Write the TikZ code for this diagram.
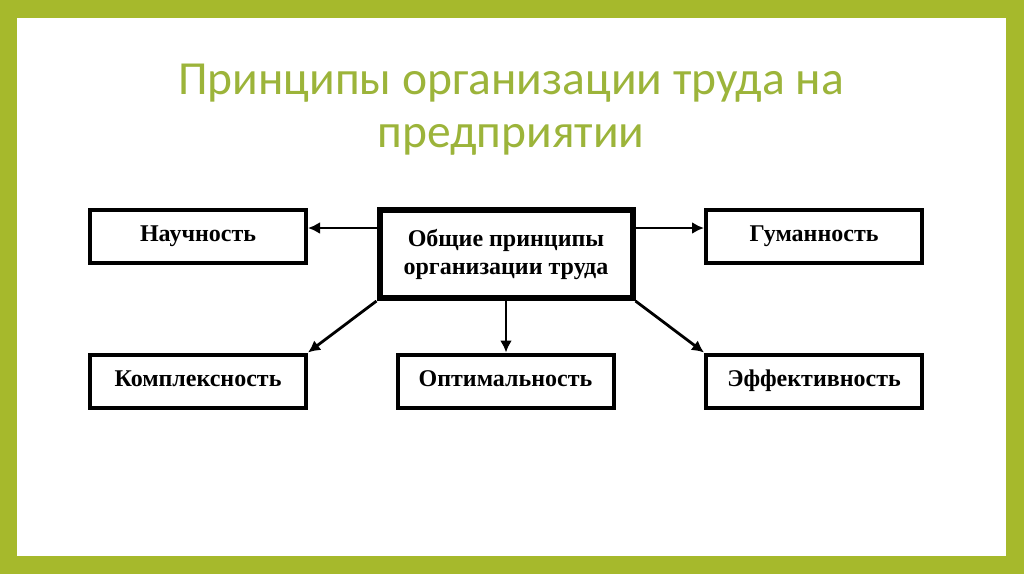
\documentclass[tikz,border=0pt]{standalone}
\usepackage{fontspec}
\setmainfont{Liberation Serif}
\newfontfamily\titlefont{Carlito}
\usetikzlibrary{arrows.meta}
\definecolor{frame}{RGB}{166,185,44}
\definecolor{titlegreen}{RGB}{156,180,58}
\tikzset{
  boxbase/.style={draw=black, line width=4pt, fill=white, minimum width=216pt, minimum height=53pt, inner sep=0pt, font=\fontsize{24}{28}\selectfont\bfseries, align=center},
  box/.style={boxbase, text height=17pt, text depth=6pt},
  mainbox/.style={boxbase, line width=6pt, minimum width=253pt, minimum height=88pt},
  conn/.style={line width=2.8pt, -{Latex[length=12pt,width=12pt]}}
}
\begin{document}
\begin{tikzpicture}[x=1pt,y=-1pt]
\useasboundingbox (0,0) rectangle (1024,574);
\fill[frame] (0,0) rectangle (1024,574);
\fill[white] (17,18) rectangle (1006,556);
\node[text=titlegreen, font=\titlefont\fontsize{47.5}{53}\selectfont, align=center] (title) at (511,110) {Принципы организации труда на\\предприятии};
\node[mainbox] (main) at (506,254) {Общие принципы\\организации труда};
\node[box] (nauch) at (198,236) {Научность};
\node[box] (guman) at (814,236) {Гуманность};
\node[box] (kompl) at (198,381) {Комплексность};
\node[box] (optim) at (505.5,381) {Оптимальность};
\node[box] (effekt) at (814,381) {Эффективность};
\draw[conn] (main.west |- 0,228) -- (nauch.east |- 0,228);
\draw[conn] (main.east |- 0,228) -- (guman.west |- 0,228);
\draw[conn] (main.south) -- (main.south |- optim.north);
\draw[conn] (main.south west) -- (kompl.north east);
\draw[conn] (main.south east) -- (effekt.north west);
\end{tikzpicture}
\end{document}
